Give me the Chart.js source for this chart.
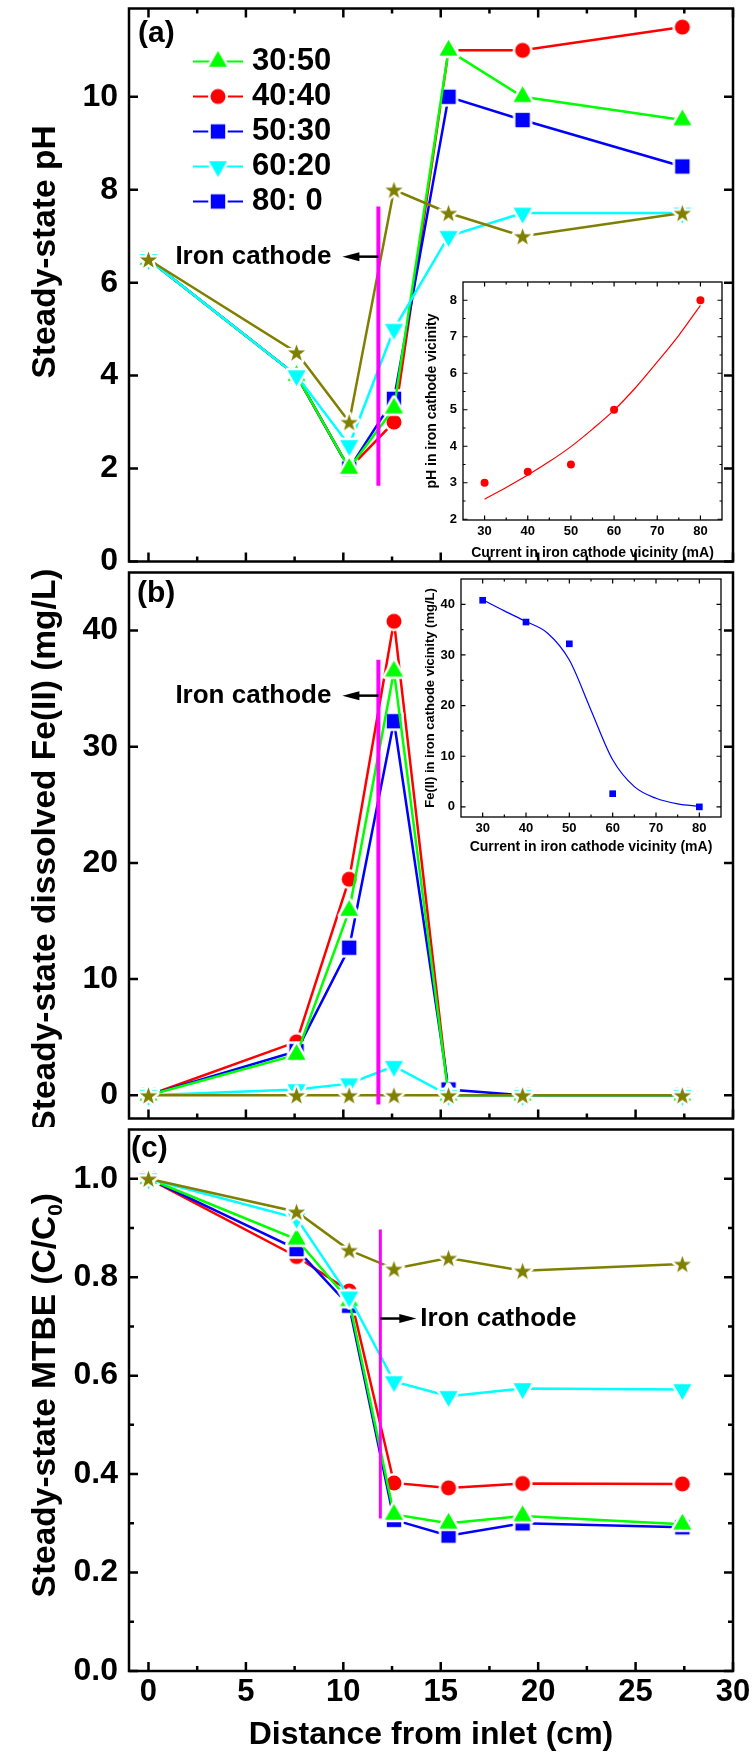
<!DOCTYPE html>
<html>
<head>
<meta charset="utf-8">
<script src="https://cdn.jsdelivr.net/npm/chart.js@4.4.0/dist/chart.umd.min.js"></script>
<style>
  html, body { margin: 0; padding: 0; background: #fff; }
  #page { position: relative; width: 753px; height: 1755px; overflow: hidden; }
  .box { position: absolute; }
</style>
</head>
<body>
<div id="page">
  <div class="box" style="left:0;top:0;width:753px;height:570px"><canvas id="panelA"></canvas></div>
  <div class="box" style="left:0;top:564px;width:753px;height:563px"><canvas id="panelB"></canvas></div>
  <div class="box" style="left:0;top:1121px;width:753px;height:634px"><canvas id="panelC"></canvas></div>
  <div class="box" style="left:418px;top:276px;width:312px;height:290px"><canvas id="insetA"></canvas></div>
  <div class="box" style="left:413px;top:573px;width:315px;height:290px"><canvas id="insetB"></canvas></div>
</div>
<script>
// ---- data ----
const distance = [0, 7.6, 10.3, 12.6, 15.4, 19.2, 27.4];
const seriesLabels = ["30:50", "40:40", "50:30", "60:20", "80: 0"];

const pH_30_50 = [6.5, 4.0, 2.0, 3.3, 11.0, 10.0, 9.5];
const pH_40_40 = [6.5, 4.0, 2.0, 3.0, 11.0, 11.0, 11.5];
const pH_50_30 = [6.5, 4.0, 2.0, 3.5, 10.0, 9.5, 8.5];
const pH_60_20 = [6.5, 4.0, 2.5, 5.0, 7.0, 7.5, 7.5];
const pH_80_0 = [6.5, 4.5, 3.0, 8.0, 7.5, 7.0, 7.5];

const fe_30_50 = [0, 3.5, 15.9, 36.5, 0, 0, 0];
const fe_40_40 = [0, 4.6, 18.6, 40.8, 0, 0, 0];
const fe_50_30 = [0, 3.8, 12.7, 32.2, 0.5, 0, 0];
const fe_60_20 = [0, 0.5, 1.0, 2.5, 0, 0, 0];
const fe_80_0 = [0, 0, 0, 0, 0, 0, 0];

const mtbe_30_50 = [1.0, 0.877, 0.752, 0.318, 0.300, 0.315, 0.298];
const mtbe_40_40 = [1.0, 0.842, 0.772, 0.382, 0.372, 0.381, 0.380];
const mtbe_50_30 = [1.0, 0.857, 0.742, 0.307, 0.275, 0.300, 0.292];
const mtbe_60_20 = [1.0, 0.920, 0.760, 0.588, 0.558, 0.574, 0.572];
const mtbe_80_0 = [1.0, 0.933, 0.855, 0.817, 0.839, 0.813, 0.827];

// iron cathode marker line, per panel (a, b, c)
const cathodeX = [11.8, 11.8, 11.9];
const cathodeTop = [7.64, 37.5, 0.897];
const cathodeBottom = [1.63, -0.8, 0.31];
const cathodeNoteY = [6.56, 34.4, 0.716];

// insets
const current = [30, 40, 50, 60, 80];
const pHVicinity = [3.0, 3.3, 3.5, 5.0, 8.0];
const feVicinity = [40.8, 36.5, 32.2, 2.6, 0];
const fitCurrent = [30, 35, 40, 45, 50, 55, 60, 65, 70, 75, 80];
const pHFit = [2.55, 2.87, 3.21, 3.58, 3.99, 4.47, 4.99, 5.61, 6.31, 7.04, 7.86];
const feFit = [40.9, 38.7, 36.6, 34.3, 29.0, 19.1, 9.3, 4.0, 1.7, 0.6, 0.1];

// tick labels
const xTicks = [0, 5, 10, 15, 20, 25, 30];
const pHTicks = [0, 2, 4, 6, 8, 10];
const feTicks = [0, 10, 20, 30, 40];
const mtbeTicks = [0, 0.2, 0.4, 0.6, 0.8, 1.0];
const currentTicks = [30, 40, 50, 60, 70, 80];
const pHInsetTicks = [2, 3, 4, 5, 6, 7, 8];
const feInsetTicks = [0, 10, 20, 30, 40];

// ---- styling ----
const FONT = '"Liberation Sans", Arial, Helvetica, sans-serif';
Chart.defaults.font.family = FONT;
Chart.defaults.font.weight = "bold";
Chart.defaults.color = "#000";

const GREEN = "#00ff00", RED = "#ff0000", BLUE = "#0000ff", CYAN = "#00ffff", OLIVE = "#808000", MAGENTA = "#ff00ff";

const seriesStyles = [
  { color: GREEN, shape: "up", r: 9, order: 2 },
  { color: RED, shape: "circle", r: 7.5, order: 4 },
  { color: BLUE, shape: "square", r: 7.2, order: 3 },
  { color: CYAN, shape: "down", r: 9, order: 1 },
  { color: OLIVE, shape: "star", r: 9, order: 0 },
];
// the original legend shows a blue square for "80: 0"
const legendStyles = seriesStyles.slice(0, 4).concat([{ color: BLUE, shape: "square", r: 7.2 }]);

function shapePath(ctx, shape, cx, cy, r) {
  ctx.beginPath();
  if (shape === "circle") {
    ctx.arc(cx, cy, r, 0, Math.PI * 2);
  } else if (shape === "square") {
    ctx.rect(cx - r, cy - r, 2 * r, 2 * r);
  } else if (shape === "up" || shape === "down") {
    const h = r * Math.sqrt(3), s = shape === "up" ? 1 : -1;
    ctx.moveTo(cx, cy - s * h * 2 / 3);
    ctx.lineTo(cx + r, cy + s * h / 3);
    ctx.lineTo(cx - r, cy + s * h / 3);
    ctx.closePath();
  } else if (shape === "star") {
    for (let i = 0; i < 10; i++) {
      const rr = i % 2 ? r * 0.4 : r;
      const ang = -Math.PI / 2 + i * Math.PI / 5;
      const px = cx + rr * Math.cos(ang), py = cy + rr * Math.sin(ang) + r * 0.1;
      if (i === 0) ctx.moveTo(px, py); else ctx.lineTo(px, py);
    }
    ctx.closePath();
  }
}

function marker(style, halo) {
  const size = Math.ceil(2 * (style.r + halo) + 4);
  const c = document.createElement("canvas");
  c.width = size; c.height = size;
  const ctx = c.getContext("2d");
  shapePath(ctx, style.shape, size / 2, size / 2, style.r);
  if (halo > 0) {
    ctx.lineJoin = "round";
    ctx.lineWidth = halo * 2;
    ctx.strokeStyle = "#fff";
    ctx.stroke();
  }
  ctx.fillStyle = style.color;
  ctx.fill();
  return c;
}

const seriesMarkers = seriesStyles.map(s => marker(s, 2.5));
const legendMarkers = legendStyles.map(s => marker(s, 2.5));

const mids = arr => arr.slice(1).map((v, i) => (v + arr[i]) / 2);

// ---- plugins ----
const framePlugin = {
  id: "frame",
  afterDraw(chart, args, o) {
    const { ctx, chartArea: a, scales: { x, y } } = chart;
    ctx.save();
    ctx.strokeStyle = "#000";
    ctx.lineWidth = o.tickWidth;
    ctx.beginPath();
    const xt = (vals, len) => vals.forEach(v => {
      const px = x.getPixelForValue(v);
      ctx.moveTo(px, a.bottom); ctx.lineTo(px, a.bottom - len);
      if (o.top) { ctx.moveTo(px, a.top); ctx.lineTo(px, a.top + len); }
    });
    const yt = (vals, len) => vals.forEach(v => {
      const py = y.getPixelForValue(v);
      ctx.moveTo(a.left, py); ctx.lineTo(a.left + len, py);
      ctx.moveTo(a.right, py); ctx.lineTo(a.right - len, py);
    });
    xt(o.xMajor, o.major); xt(o.xMinor || [], o.minor);
    yt(o.yMajor, o.major); yt(o.yMinor || [], o.minor);
    ctx.stroke();
    ctx.lineWidth = o.width;
    ctx.strokeRect(a.left, a.top, a.right - a.left, a.bottom - a.top);
    ctx.restore();
  }
};

const whiteAreaPlugin = {
  id: "whiteArea",
  beforeDraw(chart) {
    const { ctx, chartArea: a } = chart;
    ctx.save();
    ctx.fillStyle = "#fff";
    ctx.fillRect(a.left, a.top, a.right - a.left, a.bottom - a.top);
    ctx.restore();
  }
};

const yTitlePlugin = {
  id: "yTitle",
  afterDraw(chart, args, o) {
    const { ctx, chartArea: a } = chart;
    const big = `bold ${o.size}px ${FONT}`, small = `bold ${Math.round(o.size * 0.62)}px ${FONT}`;
    ctx.save();
    ctx.translate(o.x, (a.top + a.bottom) / 2 + o.shift);
    ctx.rotate(-Math.PI / 2);
    let total = 0;
    o.parts.forEach(p => { ctx.font = p.sub ? small : big; total += ctx.measureText(p.text).width; });
    let cx = -total / 2;
    ctx.textBaseline = "middle";
    ctx.textAlign = "left";
    ctx.fillStyle = "#000";
    o.parts.forEach(p => {
      ctx.font = p.sub ? small : big;
      ctx.fillText(p.text, cx, p.sub ? o.size * 0.3 : 0);
      cx += ctx.measureText(p.text).width;
    });
    ctx.restore();
  }
};

const tagPlugin = {
  id: "panelTag",
  afterDraw(chart, args, o) {
    const { ctx, chartArea: a } = chart;
    ctx.save();
    ctx.font = `bold 30px ${FONT}`;
    ctx.textBaseline = "middle";
    ctx.fillStyle = "#000";
    ctx.fillText(o.text, a.left + o.dx, a.top + o.dy);
    ctx.restore();
  }
};

const notePlugin = {
  id: "cathodeNote",
  afterDraw(chart, args, o) {
    const { ctx, scales: { x, y } } = chart;
    const lx = x.getPixelForValue(o.x), py = y.getPixelForValue(o.y);
    const dir = o.dir === "left" ? -1 : 1;
    const tip = lx + dir * 36;
    ctx.save();
    ctx.strokeStyle = "#000"; ctx.fillStyle = "#000"; ctx.lineWidth = 2.5;
    ctx.beginPath(); ctx.moveTo(lx, py); ctx.lineTo(tip - dir * 12, py); ctx.stroke();
    ctx.beginPath();
    ctx.moveTo(tip, py);
    ctx.lineTo(tip - dir * 17, py - 4.5);
    ctx.lineTo(tip - dir * 17, py + 4.5);
    ctx.closePath(); ctx.fill();
    ctx.font = `bold 26px ${FONT}`;
    ctx.textBaseline = "middle";
    ctx.textAlign = dir < 0 ? "right" : "left";
    ctx.fillText("Iron cathode", tip + dir * (dir < 0 ? 11 : 4), py);
    ctx.restore();
  }
};

const legendPlugin = {
  id: "seriesLegend",
  afterDraw(chart, args, o) {
    if (!o.show) return;
    const { ctx, chartArea: a } = chart;
    ctx.save();
    ctx.font = `bold 31px ${FONT}`;
    ctx.textBaseline = "middle";
    ctx.textAlign = "left";
    seriesLabels.forEach((label, i) => {
      const yy = a.top + o.top + i * o.step;
      const x0 = a.left + o.left;
      ctx.strokeStyle = legendStyles[i].color;
      ctx.lineWidth = 2;
      ctx.beginPath(); ctx.moveTo(x0, yy); ctx.lineTo(x0 + o.lineLen, yy); ctx.stroke();
      const img = legendMarkers[i];
      ctx.drawImage(img, x0 + o.lineLen / 2 - img.width / 2, yy - img.height / 2);
      ctx.fillStyle = "#000";
      ctx.fillText(label, x0 + o.lineLen + o.gap, yy);
    });
    ctx.restore();
  }
};

// ---- builders ----
function panelDatasets(lists, k) {
  const ds = lists.map((vals, i) => ({
    label: seriesLabels[i],
    data: distance.map((d, j) => ({ x: d, y: vals[j] })),
    showLine: true,
    borderColor: seriesStyles[i].color,
    backgroundColor: seriesStyles[i].color,
    borderWidth: 2.5,
    pointStyle: seriesMarkers[i],
    pointRadius: 6,
    order: seriesStyles[i].order,
  }));
  ds.push({
    label: "cathode",
    data: [{ x: cathodeX[k], y: cathodeTop[k] }, { x: cathodeX[k], y: cathodeBottom[k] }],
    showLine: true,
    borderColor: MAGENTA,
    borderWidth: k === 2 ? 3 : 4,
    pointRadius: 0,
    order: -1,
  });
  return ds;
}

function fixTicks(list) {
  return s => { s.ticks = list.map(v => ({ value: v })); };
}

function makePanel(id, k, lists, cfg) {
  return new Chart(document.getElementById(id), {
    type: "scatter",
    data: { datasets: panelDatasets(lists, k) },
    options: {
      responsive: true,
      maintainAspectRatio: false,
      animation: false,
      events: [],
      layout: { padding: { top: cfg.padTop, right: 20, bottom: 0, left: 0 } },
      scales: {
        x: {
          type: "linear", min: -1, max: 30,
          afterBuildTicks: fixTicks(xTicks),
          grid: { display: false, drawTicks: false },
          border: { display: false },
          ticks: { display: cfg.showX, padding: 3, maxRotation: 0, autoSkip: false, font: { size: 31, weight: "bold" }, color: "#000" },
          title: { display: cfg.showX, text: "Distance from inlet (cm)", font: { size: 32, weight: "bold" }, color: "#000", padding: { top: 0, bottom: 1 } },
          afterFit: s => { s.height = cfg.xHeight; s.paddingLeft = 0; s.paddingRight = 0; },
        },
        y: {
          type: "linear", min: cfg.yMin, max: cfg.yMax,
          afterBuildTicks: fixTicks(cfg.yTicks),
          grid: { display: false, drawTicks: false },
          border: { display: false },
          ticks: { padding: 11, font: { size: 32, weight: "bold" }, color: "#000", callback: cfg.fmt },
          afterFit: s => { s.width = 129; s.paddingTop = 0; s.paddingBottom = 0; },
        },
      },
      plugins: {
        legend: { display: false },
        tooltip: { enabled: false },
        frame: { width: 2.5, tickWidth: 2.5, major: 9, minor: 5, top: cfg.topTicks, xMajor: xTicks, xMinor: mids(xTicks), yMajor: cfg.yTicks, yMinor: cfg.yMinor },
        yTitle: { x: 46, size: 33.5, shift: cfg.titleShift, parts: cfg.title },
        panelTag: cfg.tag,
        cathodeNote: { x: cathodeX[k], y: cathodeNoteY[k], dir: cfg.noteDir },
        seriesLegend: { show: cfg.legend, top: 53, step: 35, left: 64, lineLen: 50, gap: 9 },
      },
    },
    plugins: [framePlugin, yTitlePlugin, tagPlugin, notePlugin, legendPlugin],
  });
}

makePanel("panelA", 0, [pH_30_50, pH_40_40, pH_50_30, pH_60_20, pH_80_0], {
  padTop: 7, xHeight: 3, showX: false, yMin: 0, yMax: 11.9, yTicks: pHTicks, yMinor: [],
  fmt: v => String(v), topTicks: true, legend: true, noteDir: "left", titleShift: -33,
  title: [{ text: "Steady-state pH" }], tag: { text: "(a)", dx: 9, dy: 25 },
});
makePanel("panelB", 1, [fe_30_50, fe_40_40, fe_50_30, fe_60_20, fe_80_0], {
  padTop: 3, xHeight: 3, showX: false, yMin: -2, yMax: 45, yTicks: feTicks, yMinor: [],
  fmt: v => String(v), topTicks: false, legend: false, noteDir: "left", titleShift: 5,
  title: [{ text: "Steady-state dissolved Fe(II) (mg/L)" }], tag: { text: "(b)", dx: 8, dy: 21 },
});
makePanel("panelC", 2, [mtbe_30_50, mtbe_40_40, mtbe_50_30, mtbe_60_20, mtbe_80_0], {
  padTop: 3, xHeight: 84, showX: true, yMin: 0, yMax: 1.1, yTicks: mtbeTicks, yMinor: mids(mtbeTicks),
  fmt: v => v.toFixed(1), topTicks: false, legend: false, noteDir: "right", titleShift: -5,
  title: [{ text: "Steady-state MTBE (C/C" }, { text: "0", sub: true }, { text: ")" }], tag: { text: "(c)", dx: 2, dy: 19 },
});

function makeInset(id, cfg) {
  return new Chart(document.getElementById(id), {
    type: "scatter",
    data: {
      datasets: [
        {
          data: current.map((c, i) => ({ x: c, y: cfg.points[i] })),
          pointStyle: cfg.shape, pointRadius: cfg.radius, backgroundColor: cfg.color, borderWidth: 0,
        },
        {
          data: fitCurrent.map((c, i) => ({ x: c, y: cfg.fit[i] })),
          showLine: true, pointRadius: 0, borderColor: cfg.color, borderWidth: 1.2,
          cubicInterpolationMode: "monotone",
        },
      ],
    },
    options: {
      responsive: true,
      maintainAspectRatio: false,
      animation: false,
      events: [],
      layout: { padding: { top: 6, right: cfg.padRight, bottom: 0, left: 0 } },
      scales: {
        x: {
          type: "linear", min: 25, max: 85,
          afterBuildTicks: fixTicks(currentTicks),
          grid: { display: false, drawTicks: false },
          border: { display: false },
          ticks: { padding: 4, maxRotation: 0, autoSkip: false, font: { size: 13, weight: "bold" }, color: "#000" },
          title: { display: true, text: "Current in iron cathode vicinity (mA)", font: { size: 14, weight: "bold" }, color: "#000", padding: { top: 0, bottom: cfg.xTitlePad } },
          afterFit: s => { s.height = 46; s.paddingLeft = 0; s.paddingRight = 0; },
        },
        y: {
          type: "linear", min: cfg.yMin, max: cfg.yMax,
          afterBuildTicks: fixTicks(cfg.yTicks),
          grid: { display: false, drawTicks: false },
          border: { display: false },
          ticks: { padding: 6, font: { size: 13, weight: "bold" }, color: "#000" },
          title: { display: true, text: cfg.yTitle, font: { size: cfg.yTitleSize, weight: "bold" }, color: "#000", padding: { top: cfg.yTitlePad, bottom: 0 } },
          afterFit: s => { s.width = cfg.yWidth; s.paddingTop = 0; s.paddingBottom = 0; },
        },
      },
      plugins: {
        legend: { display: false },
        tooltip: { enabled: false },
        frame: { width: 1.3, tickWidth: 1.2, major: 4.5, minor: 2.5, top: true, xMajor: currentTicks, xMinor: mids(currentTicks), yMajor: cfg.yTicks, yMinor: mids(cfg.yTicks) },
      },
    },
    plugins: [whiteAreaPlugin, framePlugin],
  });
}

makeInset("insetA", {
  points: pHVicinity, fit: pHFit, shape: "circle", radius: 4, color: RED,
  yMin: 1.98, yMax: 8.5, yTicks: pHInsetTicks, yWidth: 45, padRight: 8, xTitlePad: 4.6,
  yTitle: "pH in iron cathode vicinity", yTitleSize: 14, yTitlePad: 5.6,
});
makeInset("insetB", {
  points: feVicinity, fit: feFit, shape: "rect", radius: 4.7, color: BLUE,
  yMin: -2, yMax: 45, yTicks: feInsetTicks, yWidth: 48, padRight: 7, xTitlePad: 7.6,
  yTitle: "Fe(II) in iron cathode vicinity (mg/L)", yTitleSize: 13, yTitlePad: 9.6,
});
</script>
</body>
</html>
